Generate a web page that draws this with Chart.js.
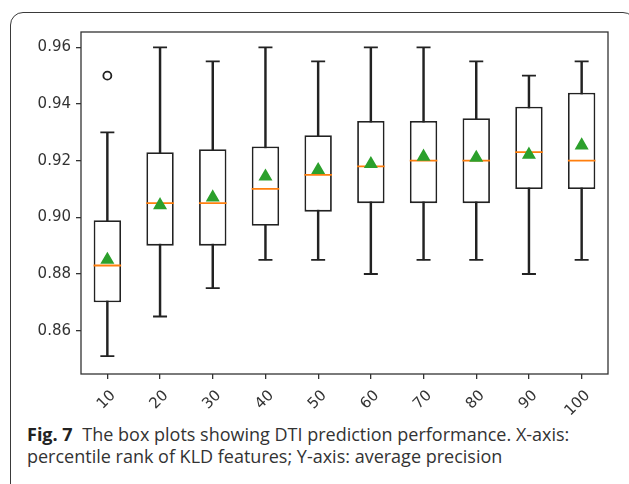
<!DOCTYPE html>
<html lang="en">
<head>
<meta charset="UTF-8">
<title>Fig. 7 box plots</title>
<style>
    body {
        margin: 0;
        padding: 0;
        background: #fff;
        width: 629px;
        height: 484px;
        overflow: hidden;
        position: relative;
    }
    .frame {
        position: absolute;
        left: 10px;
        top: 12px;
        width: 624px;
        height: 520px;
        border: 1.5px solid #3a3a3a;
        border-radius: 13px;
    }
    #chart {
        position: absolute;
        left: 0;
        top: 0;
    }
    .caption {
        position: absolute;
        left: 27px;
        top: 424px;
        font-family: "Open Sans", sans-serif;
        font-size: 18px;
        line-height: 21.5px;
        color: #333;
        white-space: nowrap;
    }
    .caption b {
        color: #222;
        margin-right: 5px;
    }
</style>
<script src="https://cdn.jsdelivr.net/npm/chart.js"></script>
</head>
<body>
<div class="frame"></div>
<canvas id="chart" width="629" height="420"></canvas>
<div class="caption">
    <b>Fig. 7</b> The box plots showing DTI prediction performance. X-axis:<br>
    percentile rank of KLD features; Y-axis: average precision
</div>

<script>
    const labels = ['10', '20', '30', '40', '50', '60', '70', '80', '90', '100'];
    const whiskerLow = [0.851, 0.865, 0.875, 0.885, 0.885, 0.880, 0.885, 0.885, 0.880, 0.885];
    const q1 = [0.870, 0.890, 0.890, 0.897, 0.902, 0.905, 0.905, 0.905, 0.910, 0.910];
    const medians = [0.883, 0.905, 0.905, 0.910, 0.915, 0.918, 0.920, 0.920, 0.923, 0.920];
    const q3 = [0.899, 0.923, 0.924, 0.925, 0.929, 0.934, 0.934, 0.935, 0.939, 0.944];
    const whiskerHigh = [0.930, 0.960, 0.955, 0.960, 0.955, 0.960, 0.960, 0.955, 0.950, 0.955];
    const means = [0.885, 0.9043, 0.907, 0.9144, 0.9167, 0.9188, 0.9214, 0.921, 0.9221, 0.9254];
    const outliers = [0.950, null, null, null, null, null, null, null, null, null];
    const yTicks = [0.86, 0.88, 0.90, 0.92, 0.94, 0.96];

    const ink = '#222';

    // matplotlib draws a closed frame around the axes
    const axesFrame = {
        id: 'axesFrame',
        afterDraw(chart) {
            const a = chart.chartArea, c = chart.ctx;
            c.save();
            c.strokeStyle = '#333';
            c.lineWidth = 1.3;
            c.strokeRect(a.left, a.top, a.right - a.left, a.bottom - a.top);
            c.restore();
        }
    };

    const pointSet = (data, style, radius, color, order, fill) => ({
        type: 'line',
        data: data,
        showLine: false,
        pointStyle: style,
        pointRadius: radius,
        pointHoverRadius: radius,
        pointBorderColor: color,
        pointBackgroundColor: fill || color,
        pointBorderWidth: 1.8,
        order: order
    });

    new Chart(document.getElementById('chart'), {
        type: 'bar',
        data: {
            labels: labels,
            datasets: [
                pointSet(means, 'triangle', 6.3, '#2ca02c', 0),
                pointSet(outliers, 'circle', 4, ink, 0, '#fff'),
                pointSet(medians, 'line', 13.8, '#ff7f0e', 1),
                pointSet(whiskerLow, 'line', 7, ink, 1),
                pointSet(whiskerHigh, 'line', 7, ink, 1),
                {
                    // boxes q1..q3
                    data: q1.map((v, i) => [v, q3[i]]),
                    backgroundColor: '#fff',
                    borderColor: ink,
                    borderWidth: 1.8,
                    borderSkipped: false,
                    barPercentage: 0.52,
                    categoryPercentage: 1,
                    grouped: false,
                    order: 2
                },
                {
                    // whiskers
                    data: whiskerLow.map((v, i) => [v, whiskerHigh[i]]),
                    backgroundColor: ink,
                    barThickness: 1.8,
                    grouped: false,
                    order: 3
                }
            ]
        },
        options: {
            responsive: false,
            animation: false,
            layout: { padding: { left: 26, top: 32, right: 21, bottom: 0 } },
            plugins: {
                legend: { display: false },
                tooltip: { enabled: false }
            },
            scales: {
                x: {
                    offset: true,
                    grid: {
                        display: true,
                        offset: false,
                        drawOnChartArea: false,
                        drawTicks: true,
                        tickLength: 5,
                        color: '#333',
                        lineWidth: 1.3
                    },
                    border: { display: false },
                    ticks: {
                        autoSkip: false,
                        minRotation: 45,
                        maxRotation: 45,
                        labelOffset: 6,
                        padding: 8,
                        color: '#333',
                        font: { family: 'DejaVu Sans', size: 15 }
                    },
                    afterFit: s => { s.height = 46; }
                },
                y: {
                    min: 0.8447,
                    max: 0.9654,
                    afterBuildTicks: s => { s.ticks = yTicks.map(v => ({ value: v })); },
                    grid: {
                        display: true,
                        drawOnChartArea: false,
                        drawTicks: true,
                        tickLength: 5,
                        color: '#333',
                        lineWidth: 1.3
                    },
                    border: { display: false },
                    ticks: {
                        padding: 5,
                        color: '#333',
                        font: { family: 'DejaVu Sans', size: 15 },
                        callback: v => v.toFixed(2)
                    },
                    afterFit: s => { s.width = 55; }
                }
            }
        },
        plugins: [axesFrame]
    });
</script>
</body>
</html>
